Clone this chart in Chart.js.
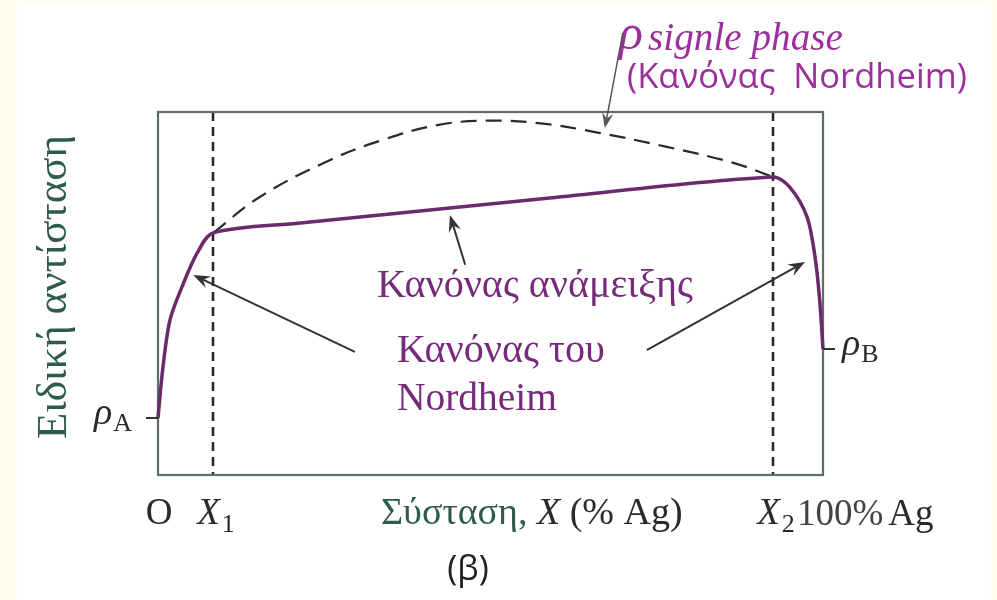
<!DOCTYPE html>
<html lang="el">

<head>
    <meta charset="UTF-8" />
    <title>Ειδική αντίσταση — Κανόνας Nordheim</title>
    <script src="https://cdn.jsdelivr.net/npm/chart.js"></script>
    <style>
        html, body { margin: 0; padding: 0; background: #fff; }
        #wrap { width: 997px; height: 600px; }
    </style>
</head>

<body>
    <div id="wrap"><canvas id="rhoChart"></canvas></div>

    <script>
        // Σύσταση X (% Ag) και ειδική αντίσταση (αυθαίρετες μονάδες, 0–100)
        const xAlloy = [0, 0.75, 1.8, 3.6, 5.9, 8.3, 21.4, 58.9, 92.5, 95.0, 97.6, 98.8, 99.5, 100];
        const rhoAlloy = [15.7, 29.8, 42.7, 51.8, 61.2, 66.7, 69.4, 76.3, 82.1, 79.3, 71.1, 60.1, 48.2, 34.7];

        // ρ single phase (κανόνας Nordheim, διακεκομμένη)
        const xSingle = [8.3, 15.3, 25.9, 33.8, 42.0, 49.5, 57.9, 66.5, 76.5, 86.5, 92.5];
        const rhoSingle = [66.7, 76.6, 86.8, 92.3, 96.4, 97.6, 96.8, 94.2, 90.4, 86.0, 82.1];

        // σημεία στον άξονα x: O, X1, X2, 100% Ag
        const xMarks = [0, 8.3, 92.5, 100];
        const xMarkMain = ['O', 'X', 'X', '100%'];
        const xMarkSub = ['', '1', '2', ''];

        // ρA, ρB στον άξονα y
        const rhoA = 15.7;
        const rhoB = 34.7;

        const purple = '#6a2a6c';
        const purpleText = '#772a7b';
        const magenta = '#9b2f9c';
        const teal = '#2f5a4f';
        const ink = '#2a2a2a';

        function toPoints(xs, ys) {
            return xs.map((x, i) => ({ x: x, y: ys[i] }));
        }

        function fitSize(ctx, text, style, family, width) {
            ctx.font = style + ' 100px ' + family;
            return 100 * width / ctx.measureText(text).width;
        }

        function drawFit(ctx, text, x, y, width, style, family, color) {
            const s = fitSize(ctx, text, style, family, width);
            ctx.font = style + ' ' + s + 'px ' + family;
            ctx.fillStyle = color;
            ctx.fillText(text, x, y);
        }

        function drawRuns(ctx, runs, x, y) {
            runs.forEach(r => {
                ctx.font = r.font;
                ctx.fillStyle = r.color;
                ctx.fillText(r.t, x, y + (r.dy || 0));
                x += ctx.measureText(r.t).width + (r.gap || 0);
            });
            return x;
        }

        function arrow(ctx, x1, y1, x2, y2, width, color, head) {
            const a = Math.atan2(y2 - y1, x2 - x1);
            ctx.save();
            ctx.strokeStyle = color;
            ctx.fillStyle = color;
            ctx.lineWidth = width;
            ctx.beginPath();
            ctx.moveTo(x1, y1);
            ctx.lineTo(x2 - Math.cos(a) * head * 0.6, y2 - Math.sin(a) * head * 0.6);
            ctx.stroke();
            ctx.beginPath();
            ctx.moveTo(x2, y2);
            ctx.lineTo(x2 - head * Math.cos(a - 0.36), y2 - head * Math.sin(a - 0.36));
            ctx.lineTo(x2 - head * 0.6 * Math.cos(a), y2 - head * 0.6 * Math.sin(a));
            ctx.lineTo(x2 - head * Math.cos(a + 0.36), y2 - head * Math.sin(a + 0.36));
            ctx.closePath();
            ctx.fill();
            ctx.restore();
        }

        const serif = '"Liberation Serif", "DejaVu Serif", serif';
        const sans = '"Open Sans", "Liberation Sans", sans-serif';

        const decor = {
            id: 'decor',
            beforeDraw(chart) {
                const ctx = chart.ctx;
                ctx.save();
                ctx.fillStyle = '#fffdf0';
                ctx.fillRect(0, 0, chart.width, chart.height);
                ctx.fillStyle = '#ffffff';
                ctx.fillRect(17, 6, 974, chart.height - 6);
                ctx.restore();
            },
            beforeDatasetsDraw(chart) {
                const ctx = chart.ctx;
                const a = chart.chartArea;
                const xs = chart.scales.x;
                ctx.save();
                // κάθετες διακεκομμένες στα X1, X2
                ctx.strokeStyle = '#2a2a2a';
                ctx.lineWidth = 2.6;
                ctx.setLineDash([9, 6]);
                [xMarks[1], xMarks[2]].forEach(v => {
                    const px = Math.round(xs.getPixelForValue(v));
                    ctx.beginPath();
                    ctx.moveTo(px, a.top);
                    ctx.lineTo(px, a.bottom);
                    ctx.stroke();
                });
                ctx.setLineDash([]);
                // πλαίσιο
                ctx.strokeStyle = '#5d6d68';
                ctx.lineWidth = 2.2;
                ctx.strokeRect(a.left, a.top, a.right - a.left, a.bottom - a.top);
                ctx.restore();
            },
            afterDraw(chart) {
                const ctx = chart.ctx;
                const a = chart.chartArea;
                const xs = chart.scales.x;
                const ys = chart.scales.y;
                const P = (x, y) => [xs.getPixelForValue(x), ys.getPixelForValue(y)];
                ctx.save();
                ctx.textBaseline = 'alphabetic';
                ctx.textAlign = 'left';

                // ticks ρA, ρB
                ctx.strokeStyle = '#333';
                ctx.lineWidth = 2;
                const yA = ys.getPixelForValue(rhoA);
                const yB = ys.getPixelForValue(rhoB);
                ctx.beginPath();
                ctx.moveTo(a.left - 12, yA); ctx.lineTo(a.left, yA);
                ctx.moveTo(a.right, yB); ctx.lineTo(a.right + 12, yB);
                ctx.stroke();
                drawRuns(ctx, [
                    { t: 'ρ', font: 'italic 38px ' + serif, color: ink, gap: 1 },
                    { t: 'A', font: '26px ' + serif, color: ink, dy: 7 }
                ], 94, yA + 6);
                drawRuns(ctx, [
                    { t: 'ρ', font: 'italic 38px ' + serif, color: ink, gap: 1 },
                    { t: 'B', font: '26px ' + serif, color: ink, dy: 7 }
                ], a.right + 19, yB + 6);

                // ετικέτες άξονα x
                const base = 524;
                xMarks.forEach((v, i) => {
                    const px = xs.getPixelForValue(v);
                    if (i === 0) {
                        ctx.font = '37px ' + serif;
                        ctx.fillStyle = ink;
                        ctx.textAlign = 'center';
                        ctx.fillText(xMarkMain[i], px + 1, base);
                        ctx.textAlign = 'left';
                    } else if (i === 3) {
                        drawRuns(ctx, [
                            { t: xMarkMain[i], font: '37px ' + serif, color: '#444', gap: 5 },
                            { t: 'Ag', font: '37px ' + serif, color: ink }
                        ], px - 26, base + 1);
                    } else {
                        drawRuns(ctx, [
                            { t: xMarkMain[i], font: 'italic 37px ' + serif, color: ink, gap: 2 },
                            { t: xMarkSub[i], font: '26px ' + serif, color: ink, dy: 8 }
                        ], px - 16, base);
                    }
                });
                drawRuns(ctx, [
                    { t: 'Σύσταση, ', font: '38px ' + serif, color: teal },
                    { t: 'X', font: 'italic 38px ' + serif, color: ink },
                    { t: ' (% Ag)', font: '38px ' + serif, color: ink }
                ], 381, base);

                ctx.font = '34px ' + sans;
                ctx.fillStyle = '#222';
                ctx.textAlign = 'center';
                ctx.fillText('(β)', 468, 580);
                ctx.textAlign = 'left';

                // τίτλος άξονα y
                ctx.save();
                ctx.translate(66, 287);
                ctx.rotate(-Math.PI / 2);
                drawFit(ctx, 'Ειδική αντίσταση', -152, 0, 304, '', serif, teal);
                ctx.restore();

                // σχόλια
                drawFit(ctx, 'Κανόνας ανάμειξης', 377, 297, 316, '', serif, purpleText);
                drawFit(ctx, 'Κανόνας του', 397, 362, 208, '', serif, purpleText);
                drawFit(ctx, 'Nordheim', 397, 410, 160, '', serif, purpleText);

                ctx.font = 'italic 50px ' + serif;
                ctx.fillStyle = magenta;
                ctx.fillText('ρ', 619, 49);
                drawFit(ctx, 'signle phase', 648, 50, 195, 'italic', serif, magenta);
                drawFit(ctx, '(Κανόνας  Nordheim)', 627, 88, 340, '', sans, magenta);

                // βέλη
                let p, q;
                p = P(69.9, 121.8); q = P(67.2, 95.6);
                arrow(ctx, p[0], p[1], q[0], q[1], 1.5, '#555', 16);
                p = P(46.2, 57.9); q = P(43.9, 71.6);
                arrow(ctx, p[0], p[1], q[0], q[1], 2, '#333', 18);
                p = P(29.6, 33.9); q = P(5.3, 55.1);
                arrow(ctx, p[0], p[1], q[0], q[1], 2, '#333', 18);
                p = P(73.5, 34.4); q = P(97.3, 58.7);
                arrow(ctx, p[0], p[1], q[0], q[1], 2, '#333', 18);

                ctx.restore();
            }
        };

        const ctx = document.getElementById('rhoChart').getContext('2d');
        const rhoChart = new Chart(ctx, {
            type: 'line',
            data: {
                datasets: [{
                    label: 'Κανόνας ανάμειξης / Nordheim',
                    data: toPoints(xAlloy, rhoAlloy),
                    borderColor: purple,
                    borderWidth: 3.5,
                    pointRadius: 0,
                    tension: 0.3,
                    clip: false
                }, {
                    label: 'ρ single phase',
                    data: toPoints(xSingle, rhoSingle),
                    borderColor: '#2a2a2a',
                    borderWidth: 2.2,
                    borderDash: [16, 9],
                    pointRadius: 0,
                    tension: 0.4,
                    clip: false
                }]
            },
            options: {
                responsive: true,
                maintainAspectRatio: false,
                animation: false,
                layout: { padding: { left: 158, right: 174, top: 112, bottom: 125 } },
                scales: {
                    x: { type: 'linear', min: 0, max: 100, display: false },
                    y: { type: 'linear', min: 0, max: 100, display: false }
                },
                plugins: {
                    legend: { display: false },
                    tooltip: { enabled: false }
                }
            },
            plugins: [decor]
        });
    </script>
</body>

</html>
